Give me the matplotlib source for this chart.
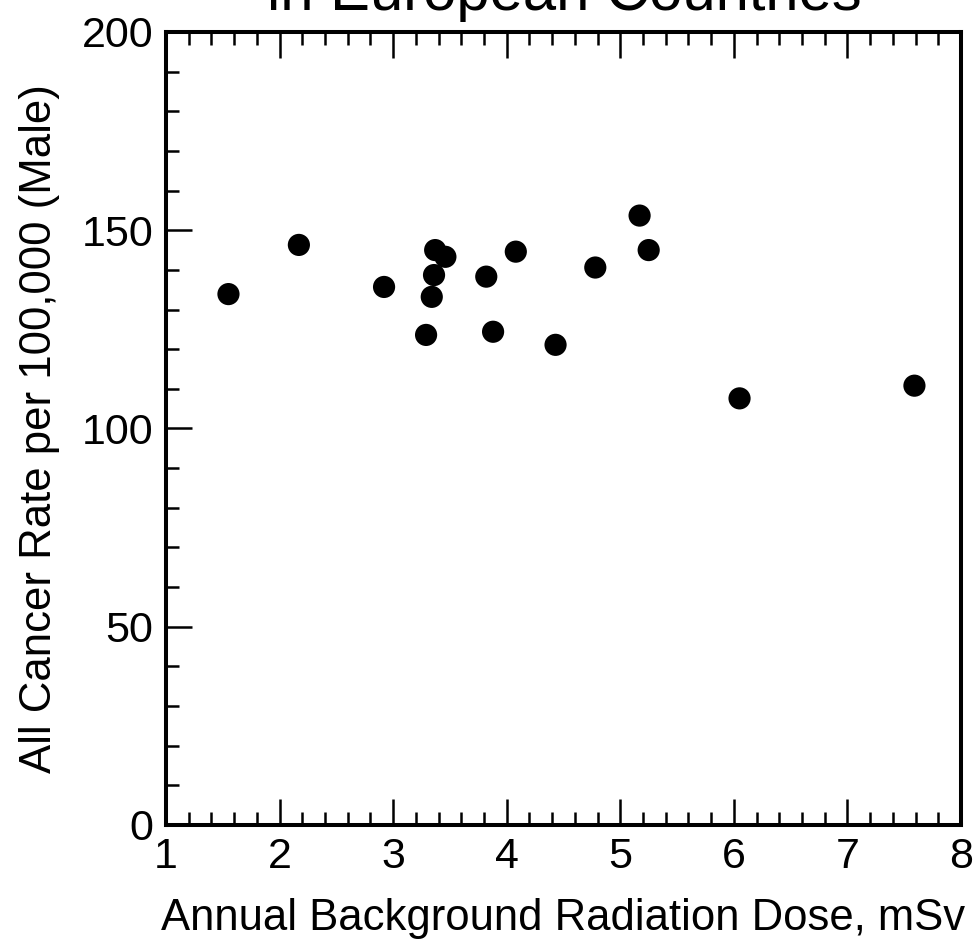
import matplotlib
matplotlib.use("Agg")
import matplotlib.pyplot as plt
from matplotlib.ticker import MultipleLocator

# background dose (mSv) and male cancer rate per 100,000
dose = [1.55, 2.17, 2.92, 3.37, 3.46, 3.36, 3.34, 3.29, 3.82, 3.88,
        4.08, 4.43, 4.78, 5.17, 5.25, 6.05, 7.59]
rate = [133.9, 146.3, 135.7, 145.0, 143.3, 138.7, 133.2, 123.6, 138.3, 124.4,
        144.6, 121.1, 140.6, 153.7, 145.0, 107.6, 110.8]

x_ticks = [1, 2, 3, 4, 5, 6, 7, 8]
y_ticks = [0, 50, 100, 150, 200]

title = "in European Countries"
x_label = "Annual Background Radiation Dose, mSv"
y_label = "All Cancer Rate per 100,000 (Male)"

plt.rcParams["font.family"] = ["Liberation Sans", "DejaVu Sans"]

fig = plt.figure(figsize=(9.75, 9.43), dpi=100)
ax = fig.add_axes([166 / 975, 1 - 825 / 943, 795 / 975, 793 / 943])

ax.scatter(dose, rate, s=255, color="black", edgecolors="none", zorder=3)

ax.set_xlim(1, 8)
ax.set_ylim(0, 200)
ax.set_xticks(x_ticks)
ax.set_yticks(y_ticks)
ax.xaxis.set_minor_locator(MultipleLocator(0.2))
ax.yaxis.set_minor_locator(MultipleLocator(10))

ax.tick_params(which="both", direction="in", top=True, right=False,
               labelsize=31, width=1.8, pad=9)
ax.tick_params(which="major", length=18.5)
ax.tick_params(which="minor", length=9.3)
for sp in ax.spines.values():
    sp.set_linewidth(2.9)

ax.set_xlabel(x_label, fontsize=31.4, labelpad=15)
ax.set_ylabel(y_label, fontsize=31.5, labelpad=16)

# only the lower part of the title survives at the top edge
fig.text(564 / 975, 1 - 10 / 943, title, fontsize=43, ha="center", va="baseline")

fig.savefig("out.png", dpi=100)
